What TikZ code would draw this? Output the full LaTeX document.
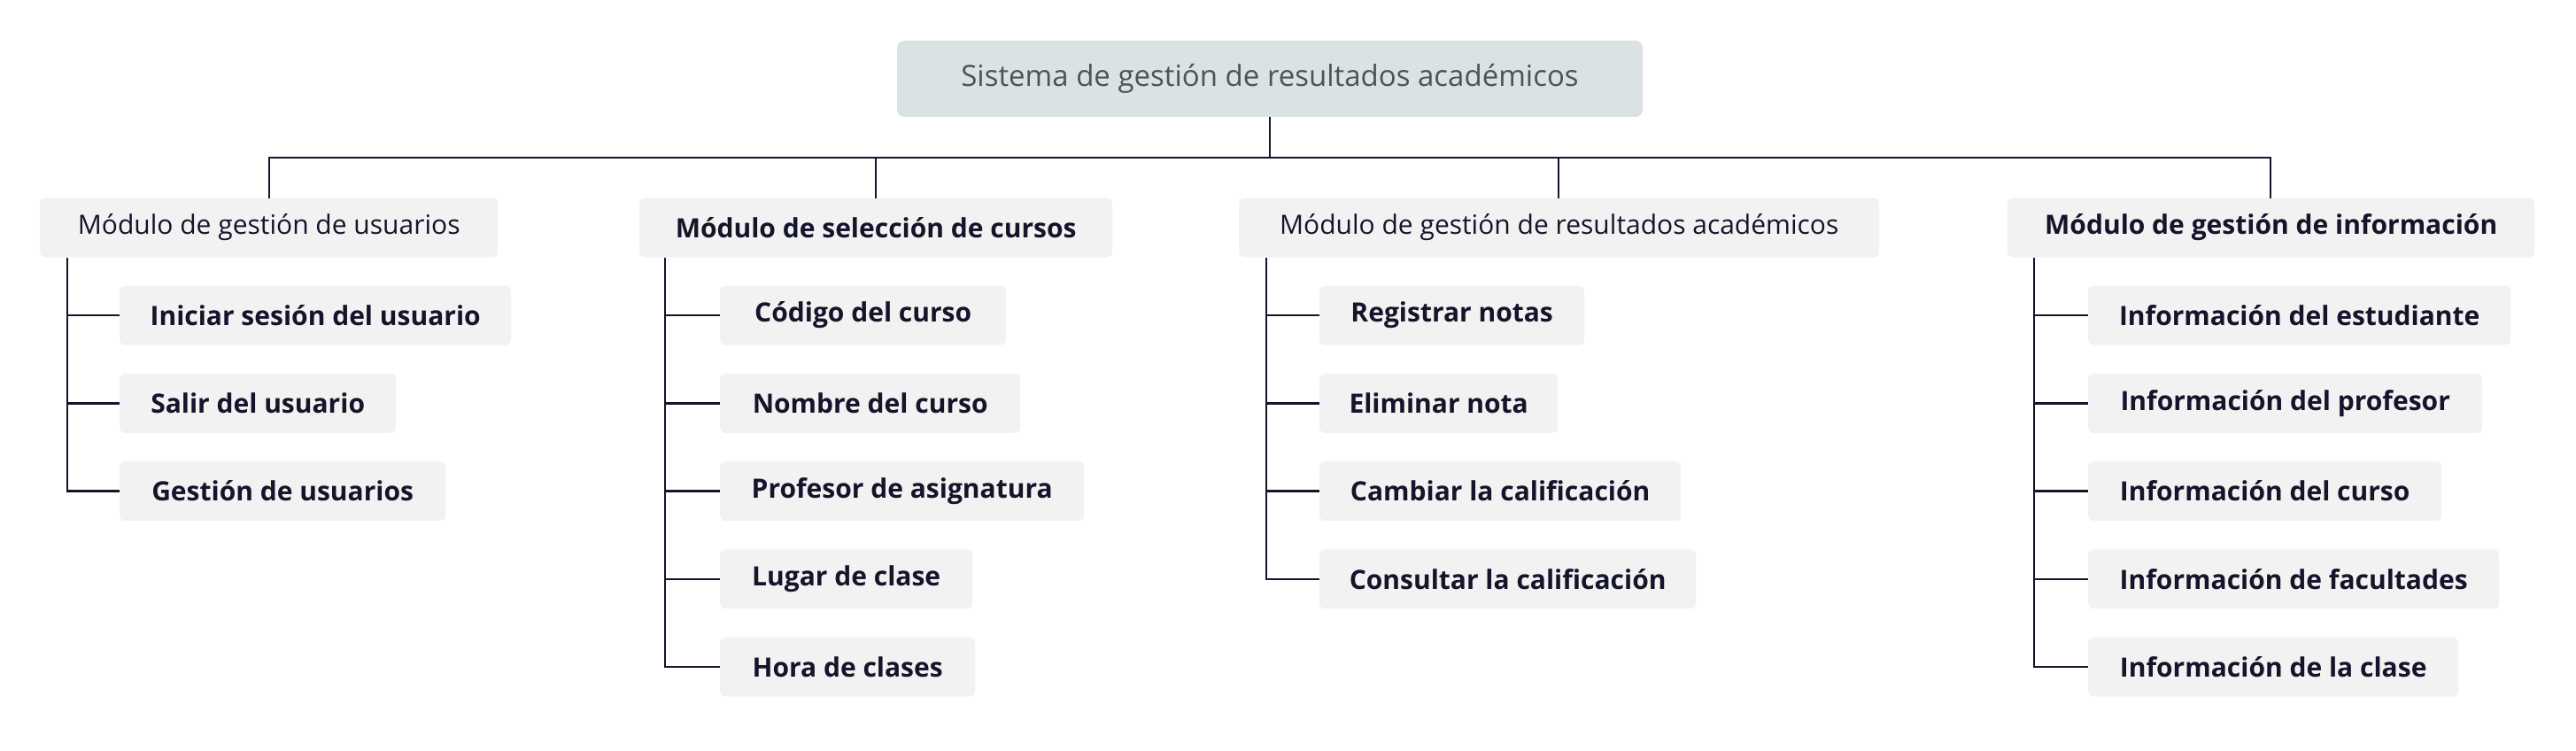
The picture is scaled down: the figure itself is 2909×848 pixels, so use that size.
\documentclass[tikz,border=0pt]{standalone}
\usepackage{fontspec}
\setmainfont{Open Sans}
\definecolor{ln}{HTML}{14142B}
\definecolor{bx}{HTML}{F2F2F2}
\definecolor{rt}{HTML}{DAE2E3}
\definecolor{rtt}{HTML}{4A5558}
\begin{document}
\begin{tikzpicture}[x=1pt,y=1pt,
 base/.style={anchor=west,rounded corners=6pt,minimum height=67pt,inner xsep=33pt,align=left,text=ln,font=\fontsize{30}{36}\selectfont},
 lvl/.style={base,fill=bx},
 kid/.style={base,fill=bx,font=\fontsize{30}{36}\selectfont\bfseries},
 con/.style={draw=ln,line width=2.4pt}]
\useasboundingbox (0,0) rectangle (2909,-848);
\node[anchor=center,fill=rt,rounded corners=8pt,minimum width=842pt,minimum height=86pt,text=rtt,font=\fontsize{33}{40}\selectfont] (root) at (1434,-89) {Sistema de gestión de resultados académicos};
% level 1
\node[lvl,minimum width=517pt] (A) at (45,-257) {Módulo de gestión de usuarios};
\node[lvl,minimum width=534pt,font=\fontsize{30}{36}\selectfont\bfseries] (B) at (722,-257) {Módulo de selección de cursos};
\node[lvl,minimum width=723pt] (C) at (1399,-257) {Módulo de gestión de resultados académicos};
\node[lvl,minimum width=595pt,font=\fontsize{30}{36}\selectfont\bfseries] (D) at (2267,-257) {Módulo de gestión de información};
\coordinate (bus) at (0,-178);
\draw[con] (root.south) -- (root.south |- bus);
\draw[con] (304,-224) |- (2564,-178) -- (2564,-224);
\draw[con] (989,-178) -- (989,-224);
\draw[con] (1760,-178) -- (1760,-224);
% children
\foreach \n/\x/\lx/\lst in {
 a/135/76/{{Iniciar sesión del usuario/442},{Salir del usuario/312},{Gestión de usuarios/368}},
 b/813/751/{{Código del curso/323},{Nombre del curso/339},{Profesor de asignatura/411},{Lugar de clase/285},{Hora de clases/288}},
 c/1490/1430/{{Registrar notas/299},{Eliminar nota/269},{Cambiar la calificación/408},{Consultar la calificación/425}},
 d/2358/2297/{{Información del estudiante/477},{Información del profesor/445},{Información del curso/399},{Información de facultades/464},{Información de la clase/418}}}{
 \foreach [count=\i] \t/\w in \lst {
   \node[kid,minimum width=\w pt] (\n\i) at (\x,{-356-99.3*(\i-1)}) {\t};
   \draw[con] (\lx,-291) |- (\n\i.west);
 }
}
\end{tikzpicture}
\end{document}
